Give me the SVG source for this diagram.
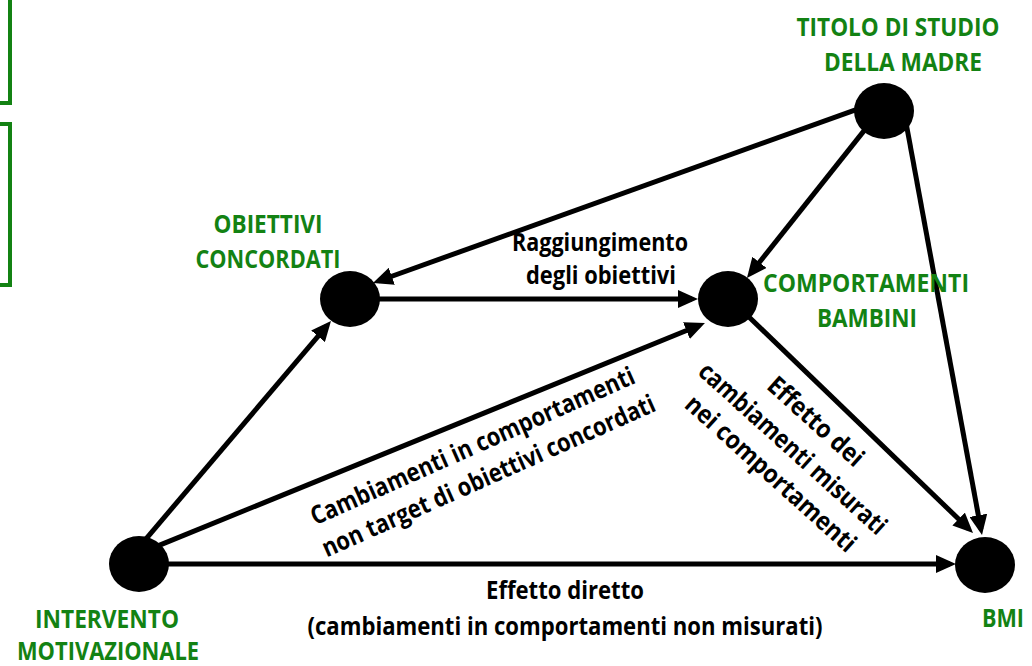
<svg xmlns="http://www.w3.org/2000/svg" width="1032" height="666" viewBox="0 0 1032 666">
<defs>
<style>
.lbl{font-family:"Open Sans",Lato,"Liberation Sans",sans-serif;font-weight:700;font-size:25.5px}
.green{fill:#138213}
.blk{fill:#000}
.edge{stroke:#000;stroke-width:5;fill:none;marker-end:url(#arr)}
.node{fill:#000}
.frame{fill:none;stroke:#138213;stroke-width:4}
</style>
<marker id="arr" markerUnits="userSpaceOnUse" markerWidth="20" markerHeight="18" viewBox="0 0 20 18" refX="14" refY="9" orient="auto">
<path d="M0,0 L20,9 L0,18 z" fill="#000"/>
</marker>
</defs>
<rect width="1032" height="666" fill="#fff"/>
<g id="frames">
<rect class="frame" x="-200" y="-10" width="210" height="113"/>
<rect class="frame" x="-200" y="124" width="210" height="161"/>
</g>
<g id="connectors">
<path class="edge" d="M141.8,543.8 L327.1,325.6"/>
<path class="edge" d="M155.4,546.9 L699.4,325.3"/>
<path class="edge" d="M160,564 L950,564"/>
<path class="edge" d="M375,299 L692,299"/>
<path class="edge" d="M859.7,108.3 L378.6,281"/>
<path class="edge" d="M866.1,128.1 L750.7,273.3"/>
<path class="edge" d="M906.1,123.1 L980.9,529.1"/>
<path class="edge" d="M746.4,314.5 L968.7,528.8"/>
</g>
<g id="edge-labels">
<text class="lbl blk" text-anchor="middle" x="600" y="251" textLength="176" lengthAdjust="spacingAndGlyphs">Raggiungimento</text>
<text class="lbl blk" text-anchor="middle" x="601" y="284" textLength="150" lengthAdjust="spacingAndGlyphs">degli obiettivi</text>
<text class="lbl blk" text-anchor="middle" x="565" y="599" textLength="158" lengthAdjust="spacingAndGlyphs">Effetto diretto</text>
<text class="lbl blk" text-anchor="middle" x="565" y="635" textLength="515" lengthAdjust="spacingAndGlyphs">(cambiamenti in comportamenti non misurati)</text>
<text class="lbl blk" text-anchor="middle" transform="translate(476,454) rotate(-24)" textLength="352" lengthAdjust="spacingAndGlyphs">Cambiamenti in comportamenti</text>
<text class="lbl blk" text-anchor="middle" transform="translate(492,484) rotate(-24)" textLength="362" lengthAdjust="spacingAndGlyphs">non target di obiettivi concordati</text>
<text class="lbl blk" text-anchor="middle" transform="translate(810,428) rotate(42)" textLength="120" lengthAdjust="spacingAndGlyphs">Effetto dei</text>
<text class="lbl blk" text-anchor="middle" transform="translate(787,455) rotate(42)" textLength="243" lengthAdjust="spacingAndGlyphs">cambiamenti misurati</text>
<text class="lbl blk" text-anchor="middle" transform="translate(765,480) rotate(42)" textLength="220" lengthAdjust="spacingAndGlyphs">nei comportamenti</text>
</g>
<g id="node-intervento">
<ellipse class="node" cx="139" cy="564" rx="30" ry="28"/>
<text class="lbl green" text-anchor="middle" x="107" y="628" textLength="144" lengthAdjust="spacingAndGlyphs">INTERVENTO</text>
<text class="lbl green" text-anchor="middle" x="108" y="660" textLength="182" lengthAdjust="spacingAndGlyphs">MOTIVAZIONALE</text>
</g>
<g id="node-obiettivi">
<ellipse class="node" cx="350" cy="299" rx="30" ry="28"/>
<text class="lbl green" text-anchor="middle" x="268" y="233" textLength="109" lengthAdjust="spacingAndGlyphs">OBIETTIVI</text>
<text class="lbl green" text-anchor="middle" x="268" y="268" textLength="145" lengthAdjust="spacingAndGlyphs">CONCORDATI</text>
</g>
<g id="node-comportamenti">
<ellipse class="node" cx="728" cy="299" rx="30" ry="28"/>
<text class="lbl green" text-anchor="middle" x="866" y="292" textLength="206" lengthAdjust="spacingAndGlyphs">COMPORTAMENTI</text>
<text class="lbl green" text-anchor="middle" x="867" y="327" textLength="100" lengthAdjust="spacingAndGlyphs">BAMBINI</text>
</g>
<g id="node-titolo">
<ellipse class="node" cx="884" cy="111" rx="30" ry="28"/>
<text class="lbl green" text-anchor="middle" x="898" y="36" textLength="203" lengthAdjust="spacingAndGlyphs">TITOLO DI STUDIO</text>
<text class="lbl green" text-anchor="middle" x="903" y="71" textLength="158" lengthAdjust="spacingAndGlyphs">DELLA MADRE</text>
</g>
<g id="node-bmi">
<ellipse class="node" cx="985" cy="565" rx="30" ry="28"/>
<text class="lbl green" x="982" y="627" textLength="42" lengthAdjust="spacingAndGlyphs">BMI</text>
</g>
</svg>
